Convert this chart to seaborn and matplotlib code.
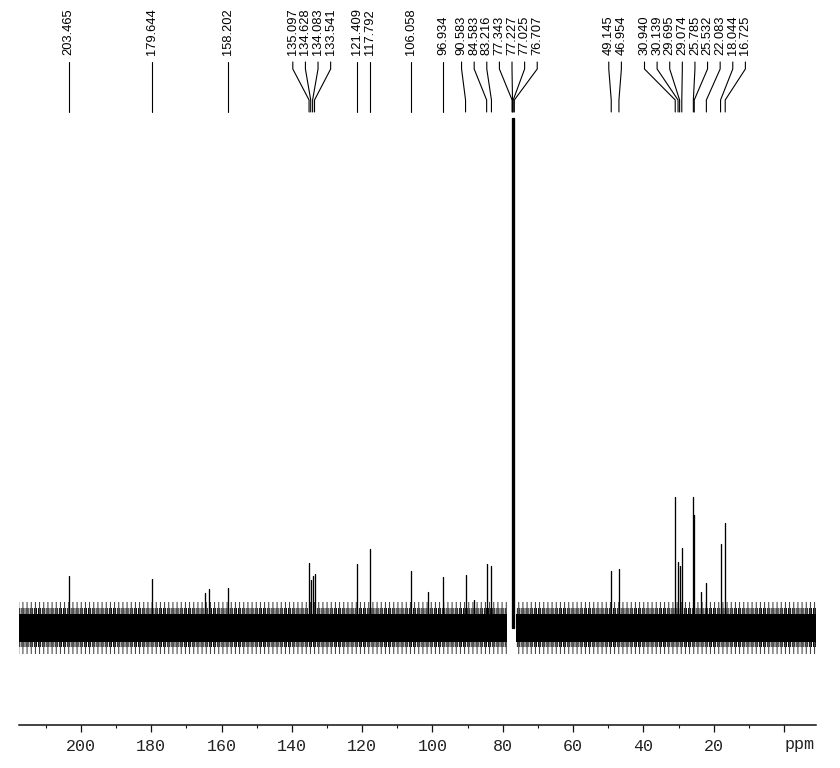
import matplotlib
matplotlib.use("Agg")
import matplotlib.pyplot as plt
from matplotlib.ticker import MultipleLocator, FixedLocator
import numpy as np
import pandas as pd
import seaborn as sns

# ---------------- data ----------------
peak_ppm = [203.465, 179.644, 158.202, 135.097, 134.628, 134.083, 133.541,
            121.409, 117.792, 106.058, 96.934, 90.583, 84.583, 83.216,
            77.343, 77.227, 77.025, 76.707, 49.145, 46.954,
            30.940, 30.139, 29.695, 29.074, 25.785, 25.532, 22.083, 18.044, 16.725]
peak_height = [52, 49, 40, 65, 48, 52, 54,
               64, 79, 57, 51, 53, 64, 62,
               510, 510, 510, 510, 57, 59,
               131, 66, 62, 80, 131, 113, 45, 84, 105]
peak_label = ["203.465", "179.644", "158.202", "135.097", "134.628", "134.083", "133.541",
              "121.409", "117.792", "106.058", "96.934", "90.583", "84.583", "83.216",
              "77.343", "77.227", "77.025", "76.707", "49.145", "46.954",
              "30.940", "30.139", "29.695", "29.074", "25.785", "25.532", "22.083",
              "18.044", "16.725"]
# small unlabelled lines
minor_ppm = [164.7, 163.5, 101.2, 88.2, 23.6]
minor_height = [35, 39, 36, 28, 36]

# baseline noise: spectrum extent (ppm) split around the solvent signal
noise_segments = [(217.6, 78.7), (76.3, -9.1)]
noise_amplitude = 14   # dense noise half-width
noise_spikes = 25      # ragged noise edge

major_ticks = [200, 180, 160, 140, 120, 100, 80, 60, 40, 20, 0]
major_tick_labels = ["200", "180", "160", "140", "120", "100", "80", "60", "40", "20", ""]
axis_unit = "ppm"

# ---------------- build table ----------------
rows = []
all_ppm = peak_ppm + minor_ppm
all_h = peak_height + minor_height
for i, (p, h) in enumerate(zip(all_ppm, all_h)):
    rows.append({"peak": i, "ppm": p, "intensity": 0.0})
    rows.append({"peak": i, "ppm": p, "intensity": float(h)})
df = pd.DataFrame(rows)

# ---------------- figure ----------------
sns.set_theme(style="ticks")
plt.rcParams["font.family"] = ["Liberation Sans", "DejaVu Sans"]
plt.rcParams["hatch.linewidth"] = 0.7

W, H = 840, 768
fig = plt.figure(figsize=(W / 100, H / 100), dpi=100)
ax_left, ax_right, ax_bottom_px = 19, 816, 725
ax = fig.add_axes([ax_left / W, (H - ax_bottom_px) / H,
                   (ax_right - ax_left) / W, ax_bottom_px / H])

baseline_px = 628
ax.set_xlim(217.6, -9.1)
ax.set_ylim(baseline_px - ax_bottom_px, baseline_px)

# noise band (dense core + ragged hatched fringe)
for a, b in noise_segments:
    ax.fill_between([a, b], -noise_spikes - 1, noise_spikes + 1, facecolor="none",
                    edgecolor="#333333", hatch="||||", lw=0, zorder=1)
    ax.fill_between([a, b], -noise_spikes + 6, noise_spikes - 5, facecolor="none",
                    edgecolor="black", hatch="||||||||", lw=0, zorder=1)
    ax.fill_between([a, b], -noise_amplitude, noise_amplitude, color="black",
                    lw=0, zorder=1)

# stick spectrum
sns.lineplot(data=df, x="ppm", y="intensity", units="peak", estimator=None,
             sort=False, color="black", linewidth=0.95, ax=ax, legend=False,
             zorder=2)

# ---------------- peak labels with leader lines ----------------
px_per_ppm = 3.513
gap = 12.6 / px_per_ppm


def spread(pos, gap):
    order = np.argsort(pos)
    clusters = [[i] for i in order]
    changed = True
    while changed:
        changed = False
        placed = []
        for c in clusters:
            ctr = np.mean([pos[i] for i in c])
            half = (len(c) - 1) * gap / 2
            placed.append((ctr - half, ctr + half))
        new = [clusters[0]]
        last = placed[0]
        for c, ext in zip(clusters[1:], placed[1:]):
            if ext[0] - last[1] < gap:
                new[-1] = new[-1] + c
                ctr = np.mean([pos[i] for i in new[-1]])
                half = (len(new[-1]) - 1) * gap / 2
                last = (ctr - half, ctr + half)
                changed = True
            else:
                new.append(c)
                last = ext
        clusters = new
    out = np.zeros(len(pos))
    for c in clusters:
        c_sorted = sorted(c, key=lambda i: pos[i])
        ctr = np.mean([pos[i] for i in c])
        start = ctr - (len(c) - 1) * gap / 2
        for k, i in enumerate(c_sorted):
            out[i] = start + k * gap
    return out


label_x = spread(np.array(peak_ppm), gap)
y_text = baseline_px - 55
y_top = baseline_px - 62
y_k1 = baseline_px - 69
y_k2 = baseline_px - 100
y_bot = baseline_px - 112
for p, lx, txt in zip(peak_ppm, label_x, peak_label):
    ax.plot([lx, lx, p, p], [y_top, y_k1, y_k2, y_bot], color="black",
            lw=0.8, solid_joinstyle="round", zorder=3)
    ax.text(lx, y_text, txt, rotation=90, ha="center", va="bottom",
            fontsize=9.3, color="black", zorder=3)

# ---------------- axis ----------------
for s in ["left", "right", "top"]:
    ax.spines[s].set_visible(False)
ax.spines["bottom"].set_linewidth(1.1)
ax.spines["bottom"].set_color("#111111")
ax.set_yticks([])
ax.xaxis.set_major_locator(FixedLocator(major_ticks))
ax.set_xticklabels(major_tick_labels)
ax.xaxis.set_minor_locator(MultipleLocator(10))
ax.tick_params(axis="x", which="major", direction="out", length=5.2, width=0.9,
               color="#111111", pad=5, labelsize=12, labelcolor="#222222")
ax.tick_params(axis="x", which="minor", direction="out", length=2.5, width=0.8,
               color="#111111")
for t in ax.get_xticklabels():
    t.set_family(["Liberation Mono", "DejaVu Sans Mono"])
ax.annotate(axis_unit, xy=(0, 0), xycoords=("data", "axes fraction"),
            xytext=(11, -9.0), textcoords="offset points", ha="center", va="top",
            fontsize=12, color="#222222", family=["Liberation Mono", "DejaVu Sans Mono"])
ax.set_xlabel("")
ax.set_ylabel("")
ax.patch.set_visible(False)
fig.patch.set_facecolor("white")

fig.savefig("out.png", dpi=100, facecolor="white")
